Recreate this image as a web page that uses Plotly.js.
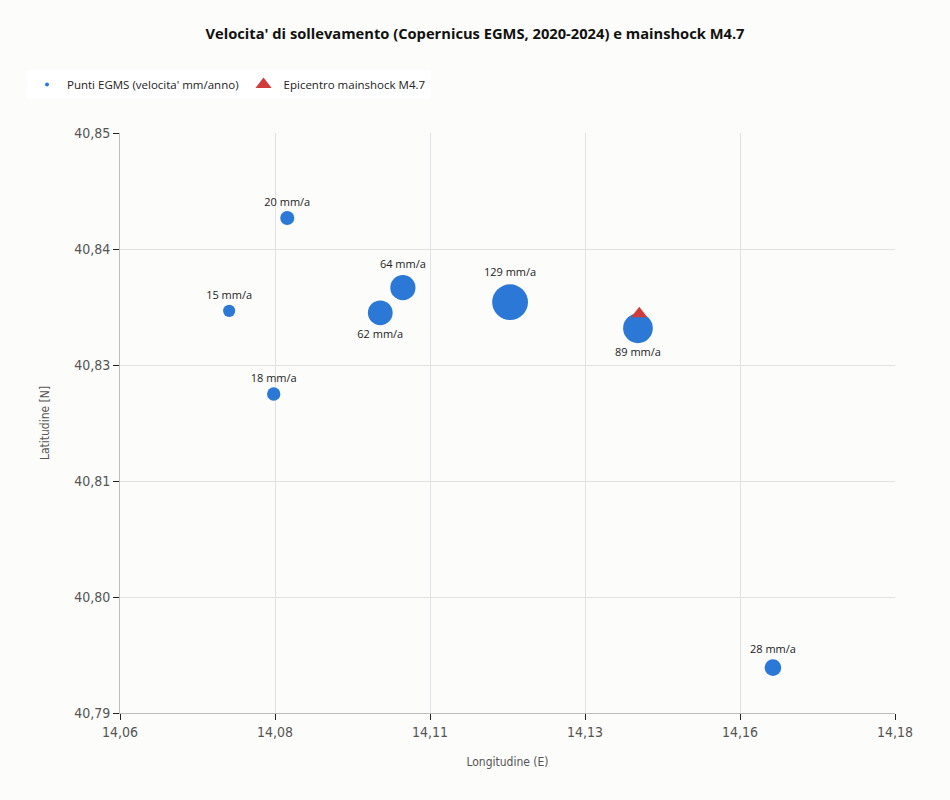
<!DOCTYPE html>
<html>
<head>
<meta charset="utf-8">
<script src="https://cdn.plot.ly/plotly-3.0.1.min.js"></script>
<style>
html,body{margin:0;padding:0;background:#fcfcfa;}
#chart{width:950px;height:800px;}
.xtick text, .ytick text, .g-xtitle text, .g-ytitle text { font-stretch: condensed !important; }
</style>
</head>
<body>
<div id="chart"></div>
<script>
// EGMS points
const lon = [14.0859, 14.0769, 14.1038, 14.1003, 14.1204, 14.1402, 14.0838, 14.1611];
const lat = [40.8412, 40.8316, 40.8340, 40.8314, 40.8325, 40.8298, 40.8230, 40.7947];
const vel = [20, 15, 64, 62, 129, 89, 18, 28];
const labelPos = ['top center','top center','top center','bottom center','top center','bottom center','top center','top center'];
// Epicentre
const epiLon = [14.1404];
const epiLat = [40.8313];
// Axis ticks
const xTicks = [14.06, 14.084, 14.108, 14.132, 14.156, 14.18];
const yTicks = [40.79, 40.802, 40.814, 40.826, 40.838, 40.85];

const fmt = v => v.toFixed(2).replace('.', ',');
const narrow = '"DejaVu Sans", sans-serif';
const ui = '"Open Sans", "Noto Sans", sans-serif';

const traces = [
  {
    type: 'scatter', mode: 'markers+text',
    x: lon, y: lat,
    text: vel.map(v => v + ' mm/a'),
    textposition: labelPos,
    textfont: {family: ui, size: 11, color: '#222'},
    marker: {size: vel.map(v => 3.15 * Math.sqrt(v)), color: '#2b78d6', opacity: 1, line: {width: 0}},
    showlegend: false, hoverinfo: 'skip'
  },
  {
    type: 'scatter', mode: 'markers',
    x: [null], y: [null],
    name: "Punti EGMS (velocita' mm/anno)",
    marker: {size: 4, color: '#2b78d6', opacity: 1},
    hoverinfo: 'skip'
  },
  {
    type: 'scatter', mode: 'markers',
    x: epiLon, y: epiLat,
    name: 'Epicentro mainshock M4.7',
    marker: {symbol: 'triangle-up', size: 14, color: '#d13b3b', opacity: 1, line: {width: 0}},
    hoverinfo: 'skip'
  }
];

const axisCommon = {
  showline: true, linecolor: '#bdbdbd', linewidth: 1,
  gridcolor: '#e2e2e2', gridwidth: 1,
  ticks: 'outside', ticklen: 6, tickcolor: '#222', tickwidth: 1,
  tickfont: {family: narrow, size: 14, color: '#555'},
  zeroline: false, mirror: false
};

const layout = {
  width: 950, height: 800,
  paper_bgcolor: '#fcfcfa', plot_bgcolor: '#fcfcfa',
  margin: {l: 120, r: 55, t: 133, b: 87},
  title: {text: "<b>Velocita' di sollevamento (Copernicus EGMS, 2020-2024) e mainshock M4.7</b>",
          font: {family: ui, size: 14.7, color: '#111'}, x: 0.5, xanchor: 'center', xref: 'container',
          y: 1 - 34/800, yanchor: 'middle', yref: 'container'},
  xaxis: Object.assign({}, axisCommon, {
    range: [14.06, 14.18], tickvals: xTicks, ticktext: xTicks.map(fmt),
    title: {text: 'Longitudine (E)', font: {family: narrow, size: 12, color: '#555'}, standoff: 18}
  }),
  yaxis: Object.assign({}, axisCommon, {
    range: [40.79, 40.85], tickvals: yTicks, ticktext: yTicks.map(fmt),
    title: {text: 'Latitudine [N]', font: {family: narrow, size: 12, color: '#555'}, standoff: 21}
  }),
  showlegend: true,
  legend: {
    orientation: 'h', xref: 'container', yref: 'container',
    x: 27/950, xanchor: 'left', y: 1 - 70/800, yanchor: 'top',
    bgcolor: '#ffffff', font: {family: ui, size: 11.5, color: '#222'},
    itemsizing: 'trace', tracegroupgap: 0
  },
  hovermode: false
};

Plotly.newPlot('chart', traces, layout, {displayModeBar: false, staticPlot: true});
</script>
</body>
</html>
